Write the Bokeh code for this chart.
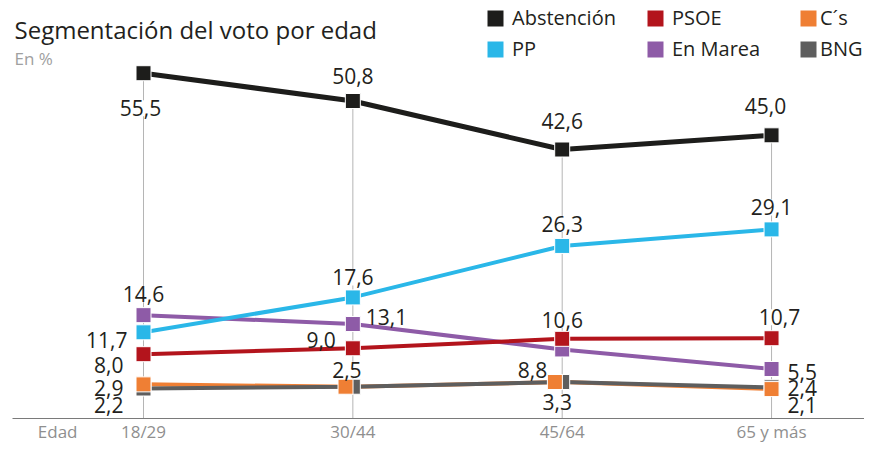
from bokeh.plotting import figure
from bokeh.models import (ColumnDataSource, Range1d, LabelSet, Label, Legend,
                          LegendItem, FixedTicker)
from bokeh.core.properties import value
from bokeh.embed import file_html
from bokeh.resources import INLINE

# ---------------- data ----------------
categories = ["18/29", "30/44", "45/64", "65 y más"]
abstencion = [55.5, 50.8, 42.6, 45.0]
pp = [11.7, 17.6, 26.3, 29.1]
psoe = [8.0, 9.0, 10.6, 10.7]
en_marea = [14.6, 13.1, 8.8, 5.5]
cs = [2.9, 2.5, 3.3, 2.1]
bng = [2.2, 2.5, 3.3, 2.4]

series_names = ["Abstención", "PP", "PSOE", "En Marea", "C´s", "BNG"]
title_text = "Segmentación del voto por edad"
subtitle_text = "En %"
axis_name = "Edad"

# ---------------- styles ----------------
FONT = "Open Sans"
TXT = "#231f20"
GREY_TXT = "#8f8f8f"
colors = {
    "Abstención": "#1d1d1b",
    "PP": "#2ab7e8",
    "PSOE": "#b3141c",
    "En Marea": "#8e5ba7",
    "C´s": "#ef7f34",
    "BNG": "#5e5e5e",
}
# label placement (align, dx px, dy px upward) for each point
placements = {
    "Abstención": [("center", -3, -35), ("center", 0, 25), ("center", 0, 29), ("center", -6, 29)],
    "PP": [("right", -16, -8), ("center", 0, 20), ("center", 0, 22), ("center", 0, 22)],
    "PSOE": [("right", -20, -11), ("right", -17, 8), ("center", 0, 19), ("center", 8, 21)],
    "En Marea": [("center", 0, 21), ("left", 13, 7), ("right", -15, -21), ("left", 16, -3)],
    "C´s": [("right", -20, -4), ("center", -6, 17), ("center", -5, -20), ("left", 16, -16)],
    "BNG": [("right", -20, -16), None, None, ("left", 16, -1)],
}

values = {
    "Abstención": abstencion, "PP": pp, "PSOE": psoe,
    "En Marea": en_marea, "C´s": cs, "BNG": bng,
}

xs = list(range(len(categories)))
X0, X1 = -0.6258, 3.444
Y0, Y1 = -2.87, 67.79
W, H = 864, 446
BOTTOM = 28

p = figure(width=W, height=H, output_backend="svg", toolbar_location=None,
           x_range=Range1d(X0, X1), y_range=Range1d(Y0, Y1),
           y_axis_location=None, min_border_left=12, min_border_right=0,
           min_border_top=0, min_border_bottom=BOTTOM)
p.grid.visible = False
p.outline_line_color = None
p.background_fill_color = "white"
p.border_fill_color = "white"

# x axis (with the "Edad" caption as an extra leading tick)
edad_tick = xs[0] - 0.41
p.xaxis.ticker = FixedTicker(ticks=[edad_tick] + xs)
overrides = {i: c for i, c in enumerate(categories)}
overrides[edad_tick] = axis_name
p.xaxis.major_label_overrides = overrides
p.xaxis.major_tick_out = 0
p.xaxis.major_tick_in = 0
p.xaxis.minor_tick_out = 0
p.xaxis.minor_tick_in = 0
p.xaxis.axis_line_color = "#7a7a7a"
p.xaxis.axis_line_width = 1
p.xaxis.major_label_text_font = FONT
p.xaxis.major_label_text_font_size = "17px"
p.xaxis.major_label_text_color = GREY_TXT
p.xaxis.major_label_standoff = 1

# vertical guides from axis to abstention points
p.segment(x0=xs, y0=[Y0] * len(xs), x1=xs, y1=abstencion,
          line_color="#b5b5b5", line_width=1)

# lines first, then markers
line_order = ["En Marea", "C´s", "BNG", "PSOE", "PP", "Abstención"]
for name in line_order:
    lw = 5 if name == "Abstención" else 4
    p.line(xs, values[name], line_color=colors[name], line_width=lw)

marker_order = ["En Marea", "BNG", "C´s", "PSOE", "PP", "Abstención"]
for name in marker_order:
    vals = values[name]
    mx = list(xs)
    if name == "C´s":
        # nudge the orange squares where they coincide with BNG
        mx = [x - 0.035 if abs(c - b) < 0.05 else x for x, c, b in zip(xs, cs, bng)]
    p.scatter(mx, vals, marker="square", size=15, fill_color=colors[name],
              line_color="white", line_width=1)

# value labels
groups = {a: {"x": [], "y": [], "text": [], "dx": [], "dy": []}
          for a in ("left", "center", "right")}
for name in series_names:
    vals = values[name]
    for i, v in enumerate(vals):
        pl = placements[name][i]
        if pl is None:
            continue
        if name == "BNG" and abs(v - cs[i]) < 0.05:
            continue
        align, dx, dy = pl
        g = groups[align]
        g["x"].append(xs[i])
        g["y"].append(v)
        g["text"].append(f"{v:.1f}".replace(".", ","))
        g["dx"].append(dx)
        g["dy"].append(dy)

for align, g in groups.items():
    src = ColumnDataSource(g)
    ls = LabelSet(x="x", y="y", text="text", x_offset="dx", y_offset="dy",
                  source=src, text_align=align, text_baseline="middle",
                  text_font=value(FONT), text_font_size=value("21px"),
                  text_color=TXT)
    if align == "center":
        ls.background_fill_color = "white"
    p.add_layout(ls)

# title and subtitle
p.add_layout(Label(x=X0, y=Y1, x_offset=2, y_offset=-29, text=title_text,
                   text_font=FONT, text_font_size="24px", text_color=TXT,
                   text_baseline="alphabetic", text_align="left"))
p.add_layout(Label(x=X0, y=Y1, x_offset=2, y_offset=-58, text=subtitle_text,
                   text_font=FONT, text_font_size="17px", text_color="#a0a0a0",
                   text_baseline="alphabetic", text_align="left"))

# legend: three columns of two items
nan = float("nan")
dummies = {}
for name in series_names:
    dummies[name] = p.quad(left=[nan], right=[nan], bottom=[nan], top=[nan],
                           fill_color=colors[name], line_color=None)

legend_cols = [["Abstención", "PP"], ["PSOE", "En Marea"], ["C´s", "BNG"]]
col_x = [473, 633, 786]
col_standoff = [7, 7, 2]
frame_h = H - BOTTOM
for cx, sto, names in zip(col_x, col_standoff, legend_cols):
    lg = Legend(items=[LegendItem(label=n, renderers=[dummies[n]]) for n in names],
                location=(cx, frame_h - 62), orientation="vertical",
                glyph_width=20, glyph_height=20, label_standoff=sto, spacing=4,
                padding=0, margin=0, border_line_color=None,
                background_fill_alpha=0, label_text_font=FONT,
                label_text_font_size="20px", label_text_color=TXT,
                label_height=22)
    p.add_layout(lg)

open("out.html", "w").write(file_html(p, INLINE))
